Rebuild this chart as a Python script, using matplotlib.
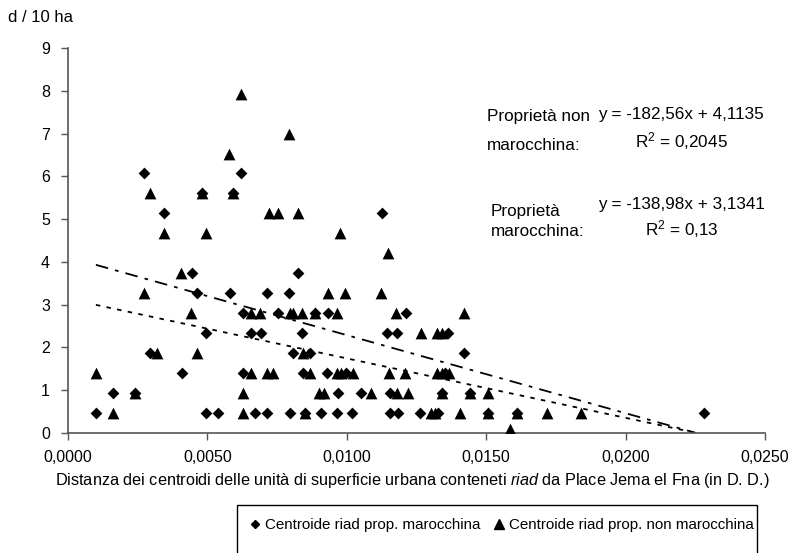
import matplotlib
matplotlib.use("Agg")
import matplotlib.pyplot as plt
from matplotlib.lines import Line2D
from matplotlib.patches import Rectangle
import numpy as np

plt.rcParams['font.family'] = ['Liberation Sans', 'DejaVu Sans']
plt.rcParams['mathtext.fontset'] = 'custom'
plt.rcParams['mathtext.rm'] = 'Liberation Sans'
plt.rcParams['mathtext.it'] = 'Liberation Sans:italic'

# ---- data (x: distance in D.D., y: d / 10 ha) ----
mar_x = [0.00273, 0.00621,
         0.00481, 0.00592,
         0.00344, 0.01126,
         0.00445, 0.00825,
         0.00463, 0.00581, 0.00714, 0.00793,
         0.00628, 0.00753, 0.00886, 0.00933, 0.01212,
         0.00495, 0.00656, 0.00692, 0.00839, 0.01144, 0.01180, 0.01363,
         0.00294, 0.00807, 0.00868, 0.01420,
         0.00409, 0.00628, 0.00843, 0.00929, 0.00997, 0.01352,
         0.00161, 0.00240, 0.00968, 0.01051, 0.01155, 0.01341, 0.01442,
         0.0010, 0.00495, 0.00538, 0.00671, 0.00714, 0.00796, 0.00850, 0.00907,
         0.00965, 0.01019, 0.01155, 0.01184, 0.01263, 0.01327, 0.01506, 0.01610,
         0.02281]
mar_y = [6.067, 6.067,
         5.6, 5.6,
         5.133, 5.133,
         3.733, 3.733,
         3.267, 3.267, 3.267, 3.267,
         2.8, 2.8, 2.8, 2.8, 2.8,
         2.333, 2.333, 2.333, 2.333, 2.333, 2.333, 2.333,
         1.867, 1.867, 1.867, 1.867,
         1.4, 1.4, 1.4, 1.4, 1.4, 1.4,
         0.933, 0.933, 0.933, 0.933, 0.933, 0.933, 0.933,
         0.467, 0.467, 0.467, 0.467, 0.467, 0.467, 0.467, 0.467,
         0.467, 0.467, 0.467, 0.467, 0.467, 0.467, 0.467, 0.467,
         0.467]

non_x = [0.00621,
         0.00793,
         0.00577,
         0.00294, 0.00481, 0.00592,
         0.00721, 0.00753, 0.00825,
         0.00344, 0.00495, 0.00976,
         0.01148,
         0.00405,
         0.00273, 0.00933, 0.00994, 0.01123,
         0.00441, 0.00656, 0.00689, 0.00796, 0.00807, 0.00839, 0.00886, 0.00965, 0.01176, 0.01420,
         0.01266, 0.01324, 0.01341,
         0.00319, 0.00463, 0.00843,
         0.0010, 0.00656, 0.00714, 0.00735, 0.00868, 0.00965, 0.00979, 0.01022, 0.01151,
         0.01209, 0.01324, 0.01341, 0.01367,
         0.00240, 0.00628, 0.00900, 0.00918, 0.01087, 0.01180, 0.01220, 0.01341, 0.01442, 0.01506,
         0.00161, 0.00628, 0.00850, 0.01302, 0.01316, 0.01406, 0.01506, 0.01610, 0.01718, 0.01840,
         0.01585]
non_y = [7.933,
         7.0,
         6.533,
         5.6, 5.6, 5.6,
         5.133, 5.133, 5.133,
         4.667, 4.667, 4.667,
         4.2,
         3.733,
         3.267, 3.267, 3.267, 3.267,
         2.8, 2.8, 2.8, 2.8, 2.8, 2.8, 2.8, 2.8, 2.8, 2.8,
         2.333, 2.333, 2.333,
         1.867, 1.867, 1.867,
         1.4, 1.4, 1.4, 1.4, 1.4, 1.4, 1.4, 1.4, 1.4,
         1.4, 1.4, 1.4, 1.4,
         0.933, 0.933, 0.933, 0.933, 0.933, 0.933, 0.933, 0.933, 0.933, 0.933,
         0.467, 0.467, 0.467, 0.467, 0.467, 0.467, 0.467, 0.467, 0.467, 0.467,
         0.09]

# trend-line equations as printed on the chart
non_slope, non_icpt = -182.56, 4.1135
mar_slope, mar_icpt = -138.98, 3.1341
trend_x_start, trend_x_end = 0.0010, 0.0225

x_ticks = [0.0, 0.005, 0.010, 0.015, 0.020, 0.025]
x_ticklabels = ["0,0000", "0,0050", "0,0100", "0,0150", "0,0200", "0,0250"]
y_ticks = list(range(0, 10))

# ---- figure ----
W, H = 803, 553
fig = plt.figure(figsize=(W / 100, H / 100), dpi=100)
ax = fig.add_axes([68 / W, 120 / H, (765 - 68) / W, 385 / H])

ax.scatter(mar_x, mar_y, marker='D', s=36, color='black', linewidths=0, zorder=3)
ax.scatter(non_x, non_y, marker='^', s=72, color='black', linewidths=0, zorder=3)

tx = np.linspace(trend_x_start, trend_x_end, 50)
ax.plot(tx, non_slope * tx + non_icpt, color='black', lw=1.3,
        dashes=(7, 4, 2, 4), zorder=2)
ax.plot(tx, mar_slope * tx + mar_icpt, color='black', lw=1.3,
        dashes=(2.5, 3.5), zorder=2)

ax.set_xlim(0, 0.025)
ax.set_ylim(0, 9)
ax.set_xticks(x_ticks)
ax.set_xticklabels(x_ticklabels)
ax.set_yticks(y_ticks)
for s in ['top', 'right']:
    ax.spines[s].set_visible(False)
for s in ['left', 'bottom']:
    ax.spines[s].set_color('#555555')
    ax.spines[s].set_linewidth(1.2)
ax.tick_params(axis='both', direction='out', length=5, width=1, color='#555555',
               labelsize=11.5, labelcolor='black')
ax.tick_params(axis='x', pad=7)
ax.tick_params(axis='y', pad=8)

fig.text(8 / W, 1 - 18 / H, "d / 10 ha", fontsize=12, va='center', ha='left')

fig.text(412 / W, 1 - 481 / H,
         r"Distanza dei centroidi delle unità di superficie urbana conteneti $\mathit{riad}$ da Place Jema el Fna (in D. D.)",
         fontsize=11.7, ha='center', va='center')

# equation annotations
fs = 12.3
fig.text(487 / W, 1 - 117 / H, "Proprietà non", fontsize=fs, ha='left', va='center')
fig.text(487 / W, 1 - 145 / H, "marocchina:", fontsize=fs, ha='left', va='center')
fig.text(681 / W, 1 - 115 / H, "y = -182,56x + 4,1135", fontsize=fs, ha='center', va='center')
fig.text(681 / W, 1 - 141 / H, r"R$^2$ = 0,2045", fontsize=fs, ha='center', va='center')

fig.text(491 / W, 1 - 211 / H, "Proprietà", fontsize=fs, ha='left', va='center')
fig.text(491 / W, 1 - 232 / H, "marocchina:", fontsize=fs, ha='left', va='center')
fig.text(681 / W, 1 - 205 / H, "y = -138,98x + 3,1341", fontsize=fs, ha='center', va='center')
fig.text(682 / W, 1 - 229 / H, r"R$^2$ = 0,13", fontsize=fs, ha='center', va='center')

# legend box (cut at bottom edge like the reference)
fig.patches.append(Rectangle((237 / W, -0.02), (757 - 237) / W, (553 - 505) / H + 0.02,
                             transform=fig.transFigure, fill=False,
                             edgecolor='black', linewidth=1))
handles = [Line2D([], [], marker='D', color='black', ls='none', markersize=4.5,
                  label="Centroide riad prop. marocchina"),
           Line2D([], [], marker='^', color='black', ls='none', markersize=6.5,
                  label="Centroide riad prop. non marocchina")]
fig.legend(handles=handles, ncol=2, frameon=False, loc='center',
           bbox_to_anchor=(502 / W, 1 - 525 / H), fontsize=10.9,
           handlelength=0.6, handletextpad=0.4, columnspacing=0.9)

fig.savefig("out.png", dpi=100)
